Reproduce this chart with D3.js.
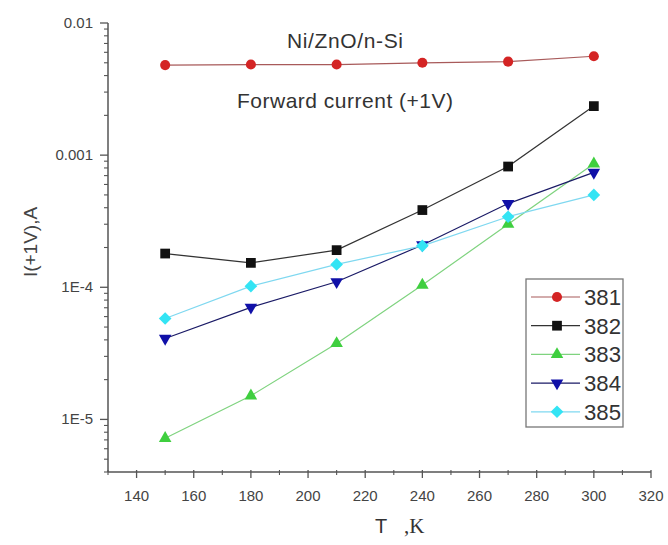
<!DOCTYPE html>
<html>
<head>
<meta charset="utf-8">
<script src="https://cdn.jsdelivr.net/npm/d3@7/dist/d3.min.js"></script>
<style>
  html, body { margin: 0; padding: 0; background: #fff; }
  svg { display: block; font-family: "Liberation Sans", Arial, sans-serif; }
</style>
</head>
<body>
<svg id="chart" width="668" height="545"></svg>
<script>
// Temperature points (K)
const temperatures = [150, 180, 210, 240, 270, 300];

// Forward current at +1V (A) for each sample
const s381 = [4.8e-3, 4.85e-3, 4.85e-3, 5.0e-3, 5.1e-3, 5.6e-3];
const s382 = [1.80e-4, 1.53e-4, 1.91e-4, 3.84e-4, 8.2e-4, 2.35e-3];
const s383 = [7.2e-6, 1.51e-5, 3.76e-5, 1.04e-4, 3.0e-4, 8.6e-4];
const s384 = [4.1e-5, 7.05e-5, 1.10e-4, 2.09e-4, 4.3e-4, 7.4e-4];
const s385 = [5.8e-5, 1.02e-4, 1.49e-4, 2.06e-4, 3.42e-4, 5.0e-4];

const seriesNames = ["381", "382", "383", "384", "385"];
const seriesValues = [s381, s382, s383, s384, s385];

const xTicks = [140, 160, 180, 200, 220, 240, 260, 280, 300, 320];
const yTicks = [1e-5, 1e-4, 1e-3, 1e-2];
const yTickLabels = ["1E-5", "1E-4", "0.001", "0.01"];

// Rotated square used for the diamond markers
const symbolRhombus = {
  draw(ctx, size) {
    const r = Math.sqrt(size / 2);
    ctx.moveTo(0, -r); ctx.lineTo(r, 0); ctx.lineTo(0, r); ctx.lineTo(-r, 0); ctx.closePath();
  }
};

const styles = {
  "381": { line: "#a85a5a", fill: "#d42424", shape: d3.symbolCircle, size: 80 },
  "382": { line: "#333333", fill: "#111111", shape: d3.symbolSquare, size: 95 },
  "383": { line: "#7fd37f", fill: "#3fcf3f", shape: d3.symbolTriangle, size: 68 },
  "384": { line: "#1a1a66", fill: "#1010a8", shape: d3.symbolTriangle, size: 68, flip: true },
  "385": { line: "#7fd8f0", fill: "#33e4f4", shape: symbolRhombus, size: 80 }
};

const svg = d3.select("#chart");
const axisColor = "#555";
const textColor = "#444";

const x = d3.scaleLinear().domain([130, 320]).range([108, 651]);
const y = d3.scaleLog().domain([4e-6, 1e-2]).range([472, 23]);

// X axis with minor ticks every 10 K
const xAxisG = svg.append("g").attr("transform", "translate(0,472)");
xAxisG.append("line").attr("x1", 108).attr("x2", 651)
  .attr("stroke", axisColor).attr("stroke-width", 1.5);
xAxisG.selectAll("line.major").data(xTicks).enter().append("line")
  .attr("class", "major")
  .attr("x1", d => x(d)).attr("x2", d => x(d)).attr("y1", -2).attr("y2", 6)
  .attr("stroke", axisColor).attr("stroke-width", 1.3);
xAxisG.selectAll("line.minor").data(d3.range(130, 320, 20)).enter().append("line")
  .attr("class", "minor")
  .attr("x1", d => x(d)).attr("x2", d => x(d)).attr("y1", -2).attr("y2", 3)
  .attr("stroke", axisColor).attr("stroke-width", 1.1);
xAxisG.selectAll("text").data(xTicks).enter().append("text")
  .attr("x", d => x(d)).attr("y", 29)
  .attr("text-anchor", "middle").attr("font-size", 15).attr("fill", textColor)
  .text(d => d);

// Y axis, log scale with minor ticks
const yAxisG = svg.append("g").attr("transform", "translate(108,0)");
yAxisG.append("line").attr("y1", 23).attr("y2", 472)
  .attr("stroke", axisColor).attr("stroke-width", 1.5);
const minorY = [];
for (let e = -6; e <= -3; e++) {
  for (let m = 2; m <= 9; m++) {
    const v = m * Math.pow(10, e);
    if (v >= 4e-6 && v < 1e-2) minorY.push(v);
  }
}
yAxisG.selectAll("line.minor").data(minorY).enter().append("line")
  .attr("class", "minor")
  .attr("x1", -4).attr("x2", 0).attr("y1", d => y(d)).attr("y2", d => y(d))
  .attr("stroke", axisColor).attr("stroke-width", 1.1);
yAxisG.selectAll("line.major").data(yTicks).enter().append("line")
  .attr("class", "major")
  .attr("x1", -8).attr("x2", 0).attr("y1", d => y(d)).attr("y2", d => y(d))
  .attr("stroke", axisColor).attr("stroke-width", 1.3);
yAxisG.selectAll("text").data(yTicks).enter().append("text")
  .attr("x", -15).attr("y", d => y(d) + 5)
  .attr("text-anchor", "end").attr("font-size", 15).attr("fill", textColor)
  .text((d, i) => yTickLabels[i]);

// Axis titles
svg.append("text")
  .attr("transform", "translate(37,242) rotate(-90)")
  .attr("text-anchor", "middle").attr("font-size", 19).attr("fill", textColor)
  .text("I(+1V),A");
svg.append("text")
  .attr("x", 381).attr("y", 533).attr("text-anchor", "middle")
  .attr("font-size", 20).attr("fill", "#333").text("T");
svg.append("text")
  .attr("x", 404).attr("y", 533).attr("text-anchor", "start")
  .attr("font-family", "Liberation Serif, Times New Roman, serif")
  .attr("font-size", 21).attr("fill", "#333").text(",K");

// Series lines and markers
const line = d3.line().x((d, i) => x(temperatures[i])).y(d => y(d));
const symbolPath = (name) => d3.symbol().type(styles[name].shape).size(styles[name].size)();

seriesNames.forEach((name, k) => {
  const st = styles[name];
  const vals = seriesValues[k];
  svg.append("path").datum(vals)
    .attr("d", line).attr("fill", "none")
    .attr("stroke", st.line).attr("stroke-width", 1.2);
  svg.append("g").selectAll("path").data(vals).enter().append("path")
    .attr("d", symbolPath(name))
    .attr("transform", (d, i) => `translate(${x(temperatures[i])},${y(d)})${st.flip ? " rotate(180)" : ""}`)
    .attr("fill", st.fill);
});

// Annotations
svg.append("text").attr("x", 345).attr("y", 48).attr("text-anchor", "middle")
  .attr("font-size", 21).attr("fill", "#333")
  .attr("textLength", 116).attr("lengthAdjust", "spacing").text("Ni/ZnO/n-Si");
svg.append("text").attr("x", 345).attr("y", 108).attr("text-anchor", "middle")
  .attr("font-size", 21).attr("fill", "#333")
  .attr("textLength", 216).attr("lengthAdjust", "spacing").text("Forward current (+1V)");

// Legend
const legend = svg.append("g");
legend.append("rect").attr("x", 526).attr("y", 279).attr("width", 97).attr("height", 148)
  .attr("fill", "#fff").attr("stroke", "#777").attr("stroke-width", 1.3);
seriesNames.forEach((name, k) => {
  const st = styles[name];
  const ly = 297 + k * 28.7;
  legend.append("line").attr("x1", 531).attr("x2", 580).attr("y1", ly).attr("y2", ly)
    .attr("stroke", st.line).attr("stroke-width", 1.2);
  legend.append("path").attr("d", symbolPath(name))
    .attr("transform", `translate(557,${ly})${st.flip ? " rotate(180)" : ""}`)
    .attr("fill", st.fill);
  legend.append("text").attr("x", 584).attr("y", ly + 8)
    .attr("font-size", 22).attr("fill", "#333")
    .attr("textLength", 37).attr("lengthAdjust", "spacingAndGlyphs").text(name);
});
</script>
</body>
</html>
